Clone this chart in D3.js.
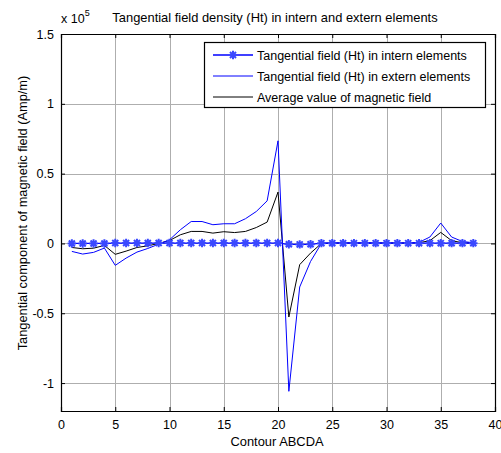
<!DOCTYPE html>
<html>
<head>
<meta charset="utf-8">
<script src="https://cdn.jsdelivr.net/npm/d3@7"></script>
<style>
  body { margin: 0; background: #fff; }
  text { font-family: "Liberation Sans", Arial, sans-serif; fill: #000; }
</style>
</head>
<body>
<div id="chart"></div>
<script>
// contour points 1..38, values in units of 1e5 Amp/m
var points = d3.range(1, 39)

var intern = [0, 0, 0, 0, 0.003, 0.003, 0.003, 0.003, 0.003, 0.003,
  0.003, 0.003, 0.003, 0.003, 0.003, 0.003, 0.003, 0.003, 0.003, 0.003,
  -0.006, -0.007, -0.006, 0.002, 0.002, 0.002, 0.002, 0.002, 0.002, 0.002,
  0.002, 0.002, 0.002, 0.002, 0.002, 0.002, 0.002, 0.002]

var extern = [-0.057, -0.076, -0.064, -0.033, -0.157, -0.105, -0.062, -0.036, -0.005, 0.026,
  0.098, 0.157, 0.157, 0.134, 0.141, 0.141, 0.177, 0.229, 0.305, 0.735,
  -1.059, -0.312, -0.129, 0.0, 0.004, 0.004, 0.004, 0.004, 0.004, 0.004,
  0.004, 0.004, 0.008, 0.046, 0.146, 0.046, 0.014, 0.005]

var average = [-0.029, -0.038, -0.034, -0.014, -0.078, -0.055, -0.029, -0.017, 0.0, 0.021,
  0.062, 0.086, 0.086, 0.074, 0.084, 0.078, 0.086, 0.114, 0.153, 0.368,
  -0.527, -0.152, -0.069, 0.0, 0.003, 0.003, 0.003, 0.003, 0.003, 0.003,
  0.003, 0.003, 0.005, 0.02, 0.079, 0.02, 0.005, 0.003]

var xTicks = [0, 5, 10, 15, 20, 25, 30, 35, 40]
var yTicks = [-1, -0.5, 0, 0.5, 1, 1.5]
var legendLabels = [
  "Tangential field (Ht) in intern elements",
  "Tangential field (Ht) in extern elements",
  "Average value of magnetic field"
]

var W = 501, H = 453
var pL = 61, pR = 495, pT = 34, pB = 411

var svg = d3.select("#chart").append("svg")
  .attr("width", W).attr("height", H)

var x = d3.scaleLinear().domain([0, 40]).range([pL, pR])
var y = d3.scaleLinear().domain([-1.2, 1.5]).range([pB, pT])

// grid
var grid = svg.append("g").attr("stroke", "#9a9a9a").attr("stroke-width", 1).attr("opacity", 0.8)
grid.selectAll(".vg").data(xTicks.slice(1, -1)).enter().append("line")
  .attr("x1", d => Math.round(x(d)) + 0.5).attr("x2", d => Math.round(x(d)) + 0.5)
  .attr("y1", pT).attr("y2", pB)
grid.selectAll(".hg").data(yTicks.slice(0, -1)).enter().append("line")
  .attr("y1", d => Math.round(y(d)) + 0.5).attr("y2", d => Math.round(y(d)) + 0.5)
  .attr("x1", pL).attr("x2", pR)

// axes with inward ticks
svg.append("g").attr("transform", `translate(0,${pB})`)
  .call(d3.axisBottom(x).tickValues(xTicks).tickSize(-4).tickPadding(9).tickFormat(d3.format("d")))
svg.append("g").attr("transform", `translate(0,${pT})`)
  .call(d3.axisTop(x).tickValues(xTicks).tickSize(-4).tickFormat(""))
svg.append("g").attr("transform", `translate(${pL},0)`)
  .call(d3.axisLeft(y).tickValues(yTicks).tickSize(-4).tickPadding(7).tickFormat(d => String(d)))
svg.append("g").attr("transform", `translate(${pR},0)`)
  .call(d3.axisRight(y).tickValues(yTicks).tickSize(-4).tickFormat(""))

svg.selectAll(".domain").attr("stroke", "#000").attr("stroke-width", 1.2)
svg.selectAll(".tick line").attr("stroke", "#000")
svg.selectAll(".tick text").attr("font-size", 12.5).attr("font-family", "Liberation Sans, Arial, sans-serif")

// lines
var line = d3.line().x((d, i) => x(points[i])).y(d => y(d))

svg.append("path").datum(average).attr("d", line)
  .attr("fill", "none").attr("stroke", "#000").attr("stroke-width", 1)
svg.append("path").datum(extern).attr("d", line)
  .attr("fill", "none").attr("stroke", "#0000ff").attr("stroke-width", 1)
svg.append("path").datum(intern).attr("d", line)
  .attr("fill", "none").attr("stroke", "#0000ff").attr("stroke-width", 1.3)

function star(g, cx, cy, r) {
  var s = r * 0.72
  g.append("path")
    .attr("d", `M${cx - r},${cy}L${cx + r},${cy}M${cx},${cy - r}L${cx},${cy + r}` +
      `M${cx - s},${cy - s}L${cx + s},${cy + s}M${cx - s},${cy + s}L${cx + s},${cy - s}`)
    .attr("stroke", "#3a48ff").attr("stroke-width", 2).attr("fill", "none")
}
var markers = svg.append("g")
intern.forEach((d, i) => star(markers, x(points[i]), y(d), 4.2))

// legend
var lg = svg.append("g")
lg.append("rect").attr("x", 204.5).attr("y", 42.5).attr("width", 281).attr("height", 65)
  .attr("fill", "#fff").attr("stroke", "#000").attr("stroke-width", 1.2)
var rows = [55, 76, 97]
var colors = ["#0000ff", "#0000ff", "#000"]
legendLabels.forEach((t, i) => {
  lg.append("line").attr("x1", 213).attr("x2", 253).attr("y1", rows[i]).attr("y2", rows[i])
    .attr("stroke", colors[i]).attr("stroke-width", i == 0 ? 1.3 : 1)
  if (i == 0) star(lg, 233, rows[i], 4.2)
  lg.append("text").attr("x", 257).attr("y", rows[i] + 4.5).attr("font-size", 12.5).text(t)
})

// title and labels
svg.append("text").attr("x", 275).attr("y", 22).attr("text-anchor", "middle").attr("font-size", 12.9)
  .text("Tangential field density (Ht) in intern and extern elements")
var ex = svg.append("text").attr("x", 61).attr("y", 23).attr("font-size", 12.5)
ex.append("tspan").text("x 10")
ex.append("tspan").attr("dy", -7).attr("font-size", 9).text("5")

svg.append("text").attr("x", 277).attr("y", 446).attr("text-anchor", "middle").attr("font-size", 12.9)
  .text("Contour ABCDA")
svg.append("text").attr("transform", `translate(27,213) rotate(-90)`)
  .attr("text-anchor", "middle").attr("font-size", 12.8)
  .text("Tangential component of magnetic field (Amp/m)")
</script>
</body>
</html>
